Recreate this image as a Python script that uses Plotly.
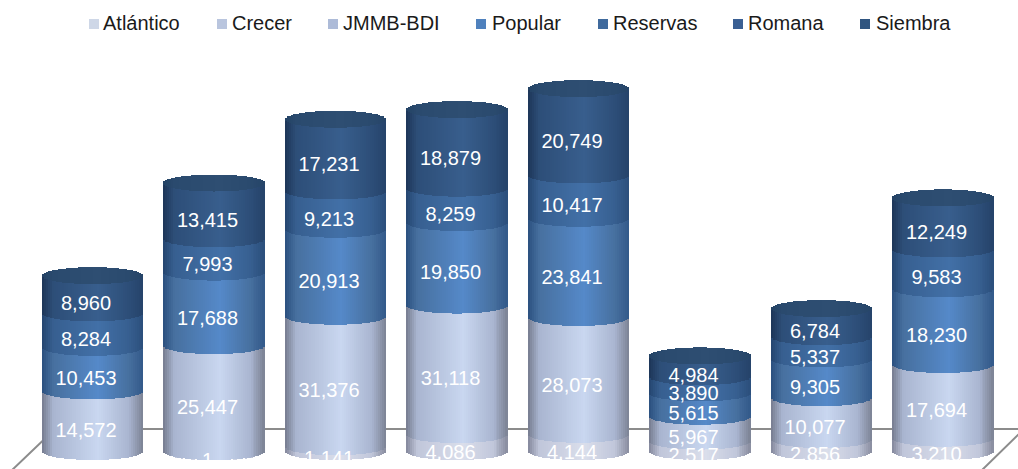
import math
import plotly.graph_objects as go

periods = ["1", "2", "3", "4", "5", "6", "7", "8"]
atlantico = [None, 1, 1141, 4086, 4144, 2517, 2856, 3210]
crecer = [14572, 25447, 31376, 31118, 28073, 5967, 10077, 17694]
jmmb = [None] * 8
popular = [10453, 17688, 20913, 19850, 23841, 5615, 9305, 18230]
reservas = [8284, 7993, 9213, 8259, 10417, 3890, 5337, 9583]
romana = [None] * 8
siembra = [8960, 13415, 17231, 18879, 20749, 4984, 6784, 12249]

names = ["Atlántico", "Crecer", "JMMB-BDI", "Popular", "Reservas", "Romana", "Siembra"]
series = [atlantico, crecer, jmmb, popular, reservas, romana, siembra]
legend_colors = ["#ced7e7", "#b9c5de", "#adbbd8", "#4f81bd", "#3f6a9d", "#3a5f93", "#2f5580"]
# left edge, shoulder, peak, right edge colours of the horizontal shading of each series
shades = [
    ("#82869a", "#c0c6da", "#dadeeb", "#888c9e"),
    ("#757b8e", "#a9b5d0", "#c9d7f0", "#7c8294"),
    ("#757b8e", "#a0aecb", "#bccbe6", "#7c8294"),
    ("#2b4f7e", "#47709f", "#5589c9", "#33598a"),
    ("#24456f", "#375f90", "#4270a7", "#2b4f7c"),
    ("#22416a", "#335a8a", "#3d689c", "#294a75"),
    ("#1c3557", "#2d4e78", "#385e8d", "#25436a"),
]
cap_shade = ("#234264", "#2a4a6e", "#2e4e72", "#264568")

W, H = 1018, 469
PX_PER_UNIT = 0.00416
BASE_PX = 460
FIRST_PX, STEP_PX = 92.5, 121.5
HALF_W_PX, SAG_PX, LABEL_SHIFT_PX, LABEL_DROP_PX = 50.5, 8.5, -6.5, 2.2
N = 51


def rgb(h):
    return [int(h[i:i + 2], 16) for i in (1, 3, 5)]


def shade(stops, d):
    left, mid, peak, right = stops
    knots = [(-1.0, left), (-0.78, mid), (0.12, peak), (0.72, mid), (1.0, right)]
    for (a, ca), (b, cb) in zip(knots, knots[1:]):
        if d <= b:
            t = (d - a) / (b - a)
            c = [round(p + (q - p) * t) for p, q in zip(rgb(ca), rgb(cb))]
            return f"rgb({c[0]},{c[1]},{c[2]})"
    return right


half_w = HALF_W_PX / STEP_PX
sag = SAG_PX / PX_PER_UNIT
offsets = [-1 + (2 * k + 1) / N for k in range(N)]
rise = [sag * (1 - math.sqrt(1 - d * d)) for d in offsets]
strip_w = 2 * half_w / N * 1.12

fig = go.Figure()
totals = [0] * len(periods)
lx, ly, lt = [], [], []
for name, vals, stops in zip(names, series, shades):
    xs, bases, hs, cols = [], [], [], []
    for i, v in enumerate(vals):
        if v is None:
            continue
        for d, r in zip(offsets, rise):
            xs.append(i + d * half_w)
            bases.append(totals[i] + r)
            hs.append(v)
            cols.append(shade(stops, d))
        lx.append(i + LABEL_SHIFT_PX / STEP_PX)
        ly.append(totals[i] + v / 2 - LABEL_DROP_PX / PX_PER_UNIT)
        lt.append(f"{v:,}")
        totals[i] += v
    fig.add_trace(go.Bar(name=name, x=xs, y=hs, base=bases, width=strip_w,
                         marker=dict(color=cols, line=dict(width=0)),
                         showlegend=False, hoverinfo="skip"))

# top caps of the cylinders
xs, bases, hs, cols = [], [], [], []
for i, t in enumerate(totals):
    for d, r in zip(offsets, rise):
        xs.append(i + d * half_w)
        bases.append(t + r)
        hs.append(2 * (sag - r))
        cols.append(shade(cap_shade, d))
fig.add_trace(go.Bar(x=xs, y=hs, base=bases, width=strip_w,
                     marker=dict(color=cols, line=dict(width=0)),
                     showlegend=False, hoverinfo="skip"))

fig.add_trace(go.Scatter(x=lx, y=ly, text=lt, mode="text", showlegend=False, hoverinfo="skip",
                         textposition="middle center",
                         textfont=dict(family="Liberation Sans", size=20, color="white")))

# legend: square swatch + label
swatch_x = [89, 217, 328, 476, 598, 733, 860]
label_x = [102, 231, 342, 491, 612, 747, 875]
shapes = [dict(type="path", xref="paper", yref="paper", layer="below",
               path=f"M {10/W} {1-472/H} L {55/W} {1-429/H} L {1024/W} {1-429/H} L {980/W} {1-472/H}",
               line=dict(color="#8c8c8c", width=2))]
annotations = []
for sx, tx, name, col in zip(swatch_x, label_x, names, legend_colors):
    shapes.append(dict(type="rect", xref="paper", yref="paper",
                       x0=sx / W, x1=(sx + 10) / W, y0=1 - 29 / H, y1=1 - 19 / H,
                       fillcolor=col, line=dict(width=0)))
    annotations.append(dict(text=name, xref="paper", yref="paper", x=tx / W, y=1 - 23 / H,
                            xanchor="left", yanchor="middle", showarrow=False, xshift=-1,
                            font=dict(family="Liberation Sans", size=20, color="#1a1a1a")))

fig.update_layout(
    width=W, height=H, margin=dict(l=0, r=0, t=0, b=0),
    paper_bgcolor="white", plot_bgcolor="rgba(0,0,0,0)", barmode="overlay", bargap=0,
    shapes=shapes, annotations=annotations, showlegend=False,
    xaxis=dict(range=[-FIRST_PX / STEP_PX, (W - FIRST_PX) / STEP_PX], visible=False, fixedrange=True),
    yaxis=dict(range=[-(H - BASE_PX) / PX_PER_UNIT, BASE_PX / PX_PER_UNIT], visible=False, fixedrange=True),
)
fig.write_html("out.html", config=dict(displayModeBar=False),
               post_script="document.body.style.margin='0';document.documentElement.style.overflow='hidden';")
